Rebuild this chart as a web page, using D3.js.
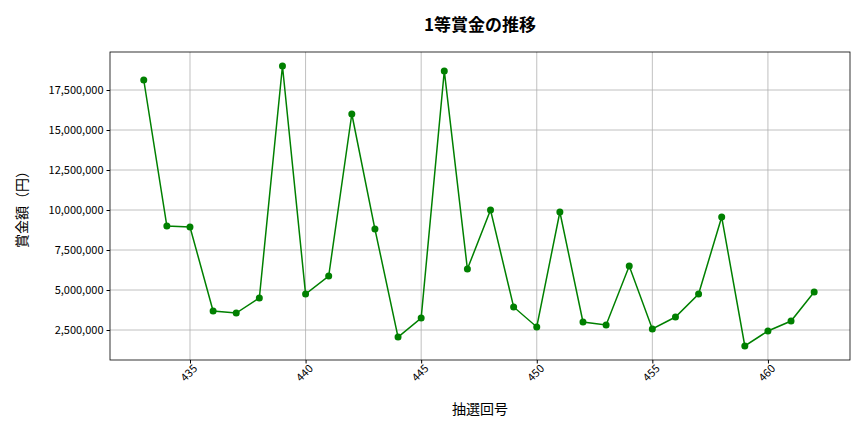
<!DOCTYPE html>
<html><head><meta charset="utf-8">
<script src="https://cdn.jsdelivr.net/npm/d3@7"></script>
<style>body{margin:0;background:#fff}text{font-family:"Noto Sans CJK JP","DejaVu Sans",sans-serif}</style>
</head><body><svg id="c" width="864" height="432"></svg>
<script>
// draw numbers and first prize amounts (yen)
var draws = d3.range(433, 463);
var prizes = [18125000, 9000000, 8940000, 3690000, 3560000, 4500000, 19000000, 4750000, 5875000, 16000000,
  8810000, 2060000, 3250000, 18690000, 6310000, 10000000, 3940000, 2690000, 9875000, 3000000,
  2810000, 6500000, 2560000, 3310000, 4750000, 9560000, 1500000, 2440000, 3060000, 4875000];
var xTicks = [435, 440, 445, 450, 455, 460];
var yTicks = [2500000, 5000000, 7500000, 10000000, 12500000, 15000000, 17500000];

var svg = d3.select("#c");
var L = 110, R = 850, T = 52, B = 360;
var x = d3.scaleLinear().domain([431.54, 463.55]).range([L, R]);
var y = d3.scaleLinear().domain([625000, 19875000]).range([B, T]);

// grid
svg.selectAll(".gx").data(xTicks).enter().append("line")
  .attr("x1", d => x(d)).attr("x2", d => x(d)).attr("y1", T).attr("y2", B)
  .attr("stroke", "#b0b0b0").attr("stroke-width", 0.8);
svg.selectAll(".gy").data(yTicks).enter().append("line")
  .attr("x1", L).attr("x2", R).attr("y1", d => y(d)).attr("y2", d => y(d))
  .attr("stroke", "#b0b0b0").attr("stroke-width", 0.8);

var xa = svg.append("g").attr("transform", "translate(0," + B + ")")
  .call(d3.axisBottom(x).tickValues(xTicks).tickSize(3.5).tickSizeOuter(0));
xa.selectAll("text").attr("font-size", 11).attr("text-anchor", "end")
  .attr("dx", "-0.1em").attr("dy", "0.5em").attr("transform", "rotate(-45)");
var ya = svg.append("g").attr("transform", "translate(" + L + ",0)")
  .call(d3.axisLeft(y).tickValues(yTicks).tickFormat(d3.format(",")).tickSize(3.5).tickSizeOuter(0));
ya.selectAll("text").attr("font-size", 11);
svg.selectAll(".domain").remove();
svg.append("rect").attr("x", L).attr("y", T).attr("width", R - L).attr("height", B - T)
  .attr("fill", "none").attr("stroke", "#000").attr("stroke-width", 0.8);

var pts = draws.map((d, i) => [d, prizes[i]]);
svg.append("path").datum(pts)
  .attr("d", d3.line().x(d => x(d[0])).y(d => y(d[1])))
  .attr("fill", "none").attr("stroke", "green").attr("stroke-width", 1.5);
svg.selectAll(".pt").data(pts).enter().append("circle")
  .attr("cx", d => x(d[0])).attr("cy", d => y(d[1])).attr("r", 3.5).attr("fill", "green");

svg.append("text").attr("x", 480).attr("y", 31).attr("text-anchor", "middle")
  .attr("font-size", 17).attr("font-weight", "bold").text("1等賞金の推移");
svg.append("text").attr("x", 480).attr("y", 414).attr("text-anchor", "middle")
  .attr("font-size", 14).text("抽選回号");
svg.append("text").attr("transform", "translate(27,206) rotate(-90)").attr("text-anchor", "middle")
  .attr("font-size", 14).text("賞金額（円）");
</script></body></html>
